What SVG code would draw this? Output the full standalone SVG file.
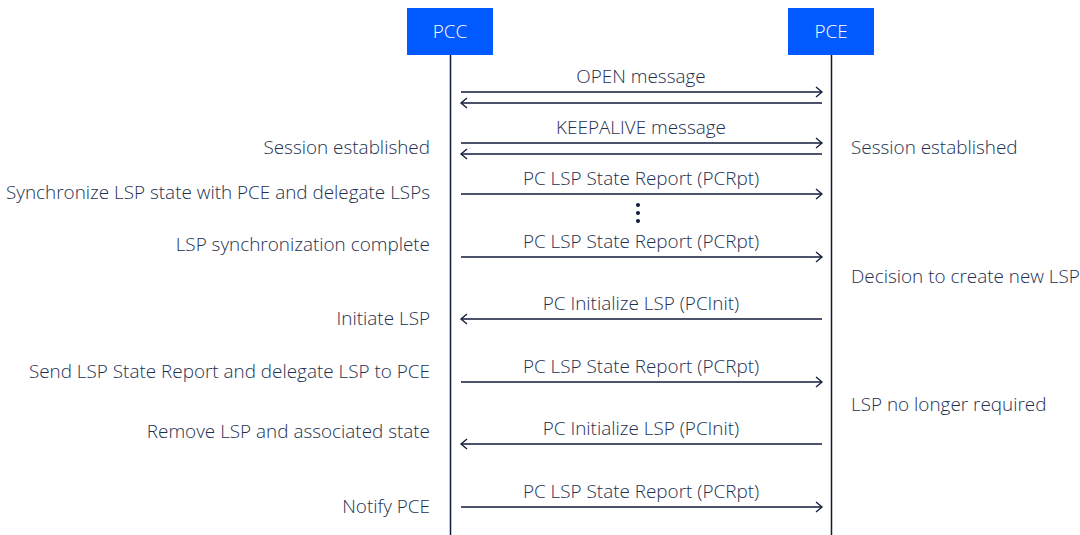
<svg xmlns="http://www.w3.org/2000/svg" width="1080" height="535" viewBox="0 0 1080 535">
  <style>
    .lbl { font-family: "Open Sans", "Liberation Sans", sans-serif; font-size: 18.9px; font-weight: 300; fill: #223050; }
    .hdr { font-family: "Open Sans", "Liberation Sans", sans-serif; font-size: 18.9px; font-weight: 300; fill: #ffffff; }
    .life { stroke: #101a3a; stroke-width: 1.5; fill: none; }
    .msg { stroke: #101a3a; stroke-width: 1.3; fill: none; }
    .box { fill: #005aff; }
  </style>
  <defs>
    <marker id="head" markerWidth="10" markerHeight="12" refX="8" refY="6" orient="auto-start-reverse" markerUnits="userSpaceOnUse">
      <path d="M2,1 L8,6 L2,11" fill="none" stroke="#101a3a" stroke-width="1.3"/>
    </marker>
  </defs>
  <rect width="1080" height="535" fill="#ffffff"/>

  <!-- participants -->
  <g id="pcc">
    <rect class="box" x="407" y="8" width="86" height="47"/>
    <text class="hdr" x="450" y="38" text-anchor="middle">PCC</text>
    <line class="life" x1="450.5" y1="55" x2="450.5" y2="535"/>
  </g>
  <g id="pce">
    <rect class="box" x="788" y="8" width="86" height="47"/>
    <text class="hdr" x="831" y="38" text-anchor="middle">PCE</text>
    <line class="life" x1="831.5" y1="55" x2="831.5" y2="535"/>
  </g>

  <!-- message arrows -->
  <g id="connectors">
    <line class="msg" x1="461" y1="92" x2="822" y2="92" marker-end="url(#head)"/>
    <line class="msg" x1="822" y1="103" x2="461" y2="103" marker-end="url(#head)"/>
    <line class="msg" x1="461" y1="143" x2="822" y2="143" marker-end="url(#head)"/>
    <line class="msg" x1="822" y1="154" x2="461" y2="154" marker-end="url(#head)"/>
    <line class="msg" x1="461" y1="194" x2="822" y2="194" marker-end="url(#head)"/>
    <line class="msg" x1="461" y1="257" x2="822" y2="257" marker-end="url(#head)"/>
    <line class="msg" x1="822" y1="319" x2="461" y2="319" marker-end="url(#head)"/>
    <line class="msg" x1="461" y1="382" x2="822" y2="382" marker-end="url(#head)"/>
    <line class="msg" x1="822" y1="444" x2="461" y2="444" marker-end="url(#head)"/>
    <line class="msg" x1="461" y1="507" x2="822" y2="507" marker-end="url(#head)"/>
  </g>

  <!-- message labels -->
  <g id="message-labels" text-anchor="middle">
    <text class="lbl" x="641" y="83">OPEN message</text>
    <text class="lbl" x="641" y="134">KEEPALIVE message</text>
    <text class="lbl" x="641" y="185">PC LSP State Report (PCRpt)</text>
    <text class="lbl" x="641" y="248">PC LSP State Report (PCRpt)</text>
    <text class="lbl" x="641" y="310">PC Initialize LSP (PCInit)</text>
    <text class="lbl" x="641" y="373">PC LSP State Report (PCRpt)</text>
    <text class="lbl" x="641" y="435">PC Initialize LSP (PCInit)</text>
    <text class="lbl" x="641" y="498">PC LSP State Report (PCRpt)</text>
  </g>

  <!-- continuation dots -->
  <g id="ellipsis" fill="#101a3a">
    <circle cx="638" cy="205" r="2"/>
    <circle cx="638" cy="213" r="2"/>
    <circle cx="638" cy="221" r="2"/>
  </g>

  <!-- PCC side notes -->
  <g id="pcc-notes" text-anchor="end">
    <text class="lbl" x="430" y="154">Session established</text>
    <text class="lbl" x="430" y="199">Synchronize LSP state with PCE and delegate LSPs</text>
    <text class="lbl" x="430" y="251">LSP synchronization complete</text>
    <text class="lbl" x="430" y="325">Initiate LSP</text>
    <text class="lbl" x="430" y="378">Send LSP State Report and delegate LSP to PCE</text>
    <text class="lbl" x="430" y="438">Remove LSP and associated state</text>
    <text class="lbl" x="430" y="513">Notify PCE</text>
  </g>

  <!-- PCE side notes -->
  <g id="pce-notes">
    <text class="lbl" x="851" y="154">Session established</text>
    <text class="lbl" x="851" y="283">Decision to create new LSP</text>
    <text class="lbl" x="851" y="411">LSP no longer required</text>
  </g>
</svg>
